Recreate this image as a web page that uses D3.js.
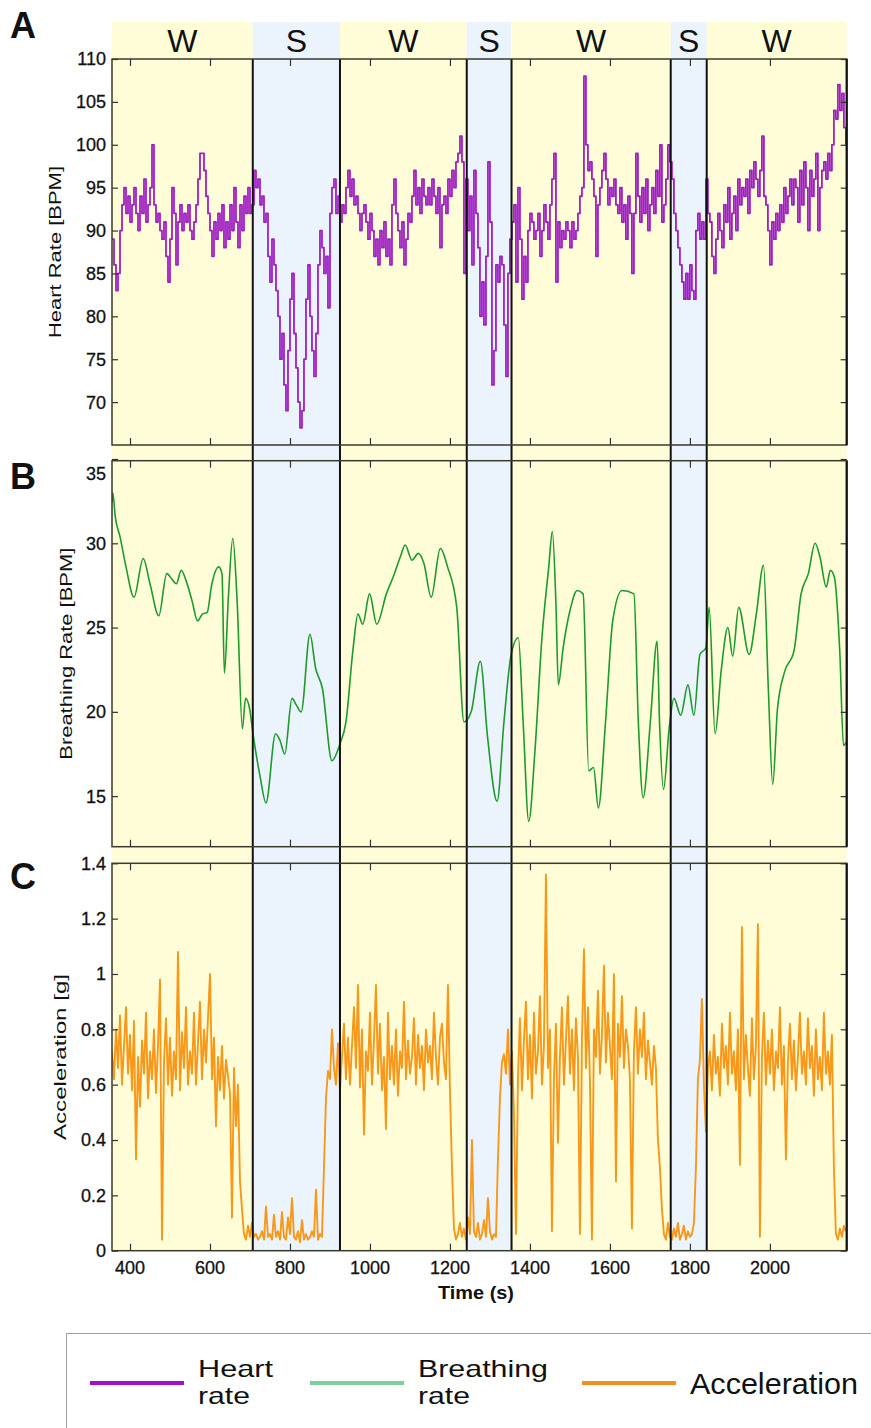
<!DOCTYPE html>
<html>
<head>
    <meta charset="utf-8">
    <title>Heart rate, breathing rate and acceleration</title>
    <style type="text/css">
        body { margin: 0; background: #fff; }
        svg text { font-family: "Liberation Sans", Arial, sans-serif; fill: #111; }
    </style>
</head>
<body>
<div id="chart"></div>
<script src="https://cdn.jsdelivr.net/npm/d3@7"></script>
<script type="text/javascript">
    // sampling of the heart rate and acceleration traces (s)
    var sampleStart = 355, sampleStep = 5;

    // heart rate [BPM], one value every 5 s from 355 s
    var heartRate = [
        89, 86, 83, 85, 90, 93, 95, 92, 94, 91,
        93, 95, 92, 90, 94, 92, 96, 91, 93, 95,
        100, 93, 91, 92, 90, 89, 91, 87, 84, 89,
        95, 92, 86, 91, 93, 90, 92, 91, 93, 90,
        89, 91, 93, 96, 99, 99, 97, 94, 92, 90,
        87, 91, 89, 92, 90, 93, 88, 91, 89, 93,
        90, 95, 91, 88, 93, 90, 94, 92, 95, 92,
        93, 97, 95, 96, 93, 94, 91, 92, 87, 84,
        89, 86, 83, 80, 75, 78, 72, 69, 76, 82,
        85, 78, 74, 70, 67, 69, 75, 82, 86, 80,
        76, 73, 78, 86, 90, 88, 85, 87, 81, 92,
        95, 96, 92, 94, 91, 93, 92, 95, 97, 94,
        96, 93, 94, 92, 90, 92, 93, 91, 89, 92,
        90, 87, 89, 86, 90, 88, 91, 87, 89, 86,
        93, 96, 92, 90, 88, 91, 86, 89, 92, 91,
        94, 97, 93, 95, 92, 96, 94, 93, 95, 93,
        96, 94, 92, 95, 88, 93, 94, 92, 96, 94,
        97, 95, 98, 99, 101, 98, 85, 96, 90, 94,
        86, 97, 92, 88, 80, 84, 79, 87, 98, 91,
        72, 76, 86, 84, 87, 86, 79, 73, 85, 89,
        91, 93, 84, 95, 89, 82, 87, 84, 90, 92,
        91, 89, 90, 92, 87, 90, 93, 91, 89, 93,
        96, 99, 84, 91, 88, 90, 89, 91, 90, 88,
        91, 89, 90, 92, 94, 95, 108, 100, 97, 98,
        96, 94, 87, 93, 95, 97, 99, 96, 93, 95,
        94, 96, 93, 92, 95, 91, 93, 89, 94, 92,
        85, 92, 99, 94, 91, 95, 92, 96, 90, 93,
        95, 92, 97, 94, 100, 91, 93, 96, 100, 98,
        96, 92, 90, 88, 86, 84, 82, 85, 82, 86,
        83, 82, 90, 92, 89, 91, 89, 96, 92, 91,
        87, 85, 89, 92, 90, 88, 93, 91, 95, 89,
        92, 94, 90, 96, 93, 95, 94, 96, 92, 97,
        95, 98, 96, 94, 97, 101, 94, 93, 90, 86,
        91, 89, 92, 90, 93, 91, 95, 92, 94, 96,
        93, 96, 95, 91, 97, 93, 98, 95, 90, 97,
        94, 96, 99, 90, 95, 97, 98, 96, 99, 97,
        100, 104, 103, 107, 104, 106, 102, 100
    ];

    // acceleration [g], one value every 5 s from 355 s
    var acceleration = [
        .72, .62, .80, .66, .85, .60, .74, .88, .64, .78,
        .58, .83, .33, .70, .52, .76, .64, .86, .55, .72,
        .62, .80, .57, .74, .98, .04, .68, .84, .60, .77,
        .56, .72, .62, 1.08, .58, .79, .66, .88, .60, .72,
        .64, .86, .60, .75, .90, .62, .80, .68, .84, 1.00,
        .62, .77, .45, .70, .58, .74, .55, .69, .63, .57,
        .12, .66, .45, .60, .25, .15, .06, .04, .09, .05,
        .10, .05, .06, .04, .05, .07, .04, .16, .05, .06,
        .04, .13, .05, .07, .04, .14, .05, .04, .12, .06,
        .19, .05, .04, .07, .03, .11, .04, .06, .04, .05,
        .07, .05, .22, .04, .06, .05, .30, .55, .65, .62,
        .80, .66, .60, .75, .58, .70, .82, .62, .77, .60,
        .74, .88, .66, .96, .59, .80, .42, .72, .65, .86,
        .60, .76, .96, .64, .82, .58, .70, .44, .86, .62,
        .74, .60, .80, .56, .72, .66, .90, .62, .76, .64,
        .70, .84, .60, .78, .66, .74, .58, .80, .68, .74,
        .62, .86, .70, .60, .77, .82, .68, .62, .96, .58,
        .30, .08, .04, .06, .10, .05, .08, .04, .12, .06,
        .40, .07, .05, .10, .04, .06, .11, .05, .19, .07,
        .04, .06, .05, .33, .55, .68, .71, .64, .80, .60,
        .72, .50, .06, .62, .84, .58, .76, .90, .62, .78,
        .55, .86, .64, .72, .92, .60, .74, 1.36, .66, .80,
        .07, .62, .82, .39, .70, .88, .60, .76, .92, .64,
        .80, .58, .84, .70, .06, .76, 1.09, .66, .88, .62,
        .04, .80, .70, .94, .64, .78, 1.03, .68, .86, .74,
        .62, 1.00, .25, .82, .70, .92, .66, .80, .74, .62,
        .08, .72, .88, .64, .80, .70, .86, .62, .76, .68,
        .60, .74, .66, .40, .30, .15, .06, .04, .10, .05,
        .04, .08, .05, .10, .04, .06, .09, .04, .07, .05,
        .06, .10, .30, .62, .69, .91, .60, .43, .66, .72,
        .58, .78, .64, .70, .56, .82, .66, .74, .60, .86,
        .64, .72, .58, .80, .31, 1.17, .62, .78, .66, .56,
        .84, .62, .74, 1.18, .05, .70, .86, .60, .76, .64,
        .80, .58, .72, .66, .88, .60, .74, .33, .68, .82,
        .62, .76, .58, .70, .86, .64, .72, .60, .84, .66,
        .74, .56, .80, .62, .70, .58, .86, .64, .72, .60,
        .78, .30, .06, .04, .08, .05, .09, .07
    ];

    // breathing rate [BPM] at the turning points of the trace
    var breathTime = [
        355, 357, 363, 375, 390, 410, 433, 450, 472, 492, 504, 516, 528, 540, 555, 569,
        581, 593, 604, 622, 630, 636, 646, 657, 668, 681, 689, 699, 707, 725, 740,
        764, 775, 787, 805, 816, 828, 850, 864, 881, 905, 925, 940, 958, 970, 982,
        999, 1017, 1041, 1058, 1076, 1088, 1105, 1121, 1135, 1153, 1176, 1194, 1217,
        1235, 1253, 1276, 1294, 1318, 1335, 1353, 1371, 1383, 1397, 1412, 1430, 1447,
        1456, 1465, 1471, 1483, 1500, 1518, 1533, 1547, 1559, 1571, 1589, 1607, 1630,
        1660, 1671, 1683, 1701, 1718, 1724, 1734, 1748, 1760, 1777, 1795, 1810, 1825,
        1840, 1848, 1863, 1878, 1895, 1907, 1922, 1948, 1966, 1984, 1996, 2007, 2019,
        2037, 2060, 2078, 2096, 2113, 2125, 2141, 2151, 2161, 2175, 2184, 2191
    ];
    var breathRate = [
        32.4, 33.0, 31.6, 30.4, 28.6, 26.8, 29.1, 27.6, 25.7, 28.2, 27.9, 27.6, 28.4, 27.8, 26.6, 25.4,
        25.8, 25.9, 27.5, 28.6, 28.2, 22.3, 26.8, 30.3, 26.5, 19.0, 20.8, 20.2, 18.8, 16.2, 14.6,
        18.7, 18.3, 17.5, 20.8, 20.4, 20.0, 24.6, 22.6, 21.4, 17.1, 18.1, 19.4, 23.8, 25.8, 25.2,
        27.0, 25.2, 27.0, 28.0, 29.2, 29.9, 29.0, 29.4, 28.8, 26.8, 29.7, 28.6, 26.2,
        19.4, 20.0, 23.0, 18.5, 14.7, 19.4, 23.4, 24.4, 19.4, 13.5, 17.5, 24.4, 28.6,
        30.7, 26.4, 21.6, 23.8, 26.0, 27.2, 27.0, 16.5, 16.7, 14.3, 19.4, 25.4, 27.2,
        27.0, 19.4, 14.9, 19.4, 24.2, 19.4, 15.4, 19.0, 20.8, 19.8, 21.6, 19.8, 23.4,
        23.8, 26.2, 18.7, 22.4, 25.0, 23.3, 26.2, 23.4, 25.8, 28.7, 21.4, 15.7, 20.2,
        22.4, 23.6, 27.0, 28.2, 30.0, 29.2, 27.4, 28.4, 28.0, 23.4, 18.0, 18.2
    ];

    // wake / sleep stages
    var stageLabels = ["W", "S", "W", "S", "W", "S", "W"];
    var stageEdges = [355, 707, 925, 1242, 1354, 1752, 1842, 2192];

    var timeTicks = [400, 600, 800, 1000, 1200, 1400, 1600, 1800, 2000];
    var hrTicks = [70, 75, 80, 85, 90, 95, 100, 105, 110];
    var brTicks = [15, 20, 25, 30, 35];
    var accTicks = [0, 0.2, 0.4, 0.6, 0.8, 1, 1.2, 1.4];

    var legendLabels = [["Heart", "rate"], ["Breathing", "rate"], ["Acceleration"]];
    var legendColors = ["#a010d0", "#7ccf9a", "#f09020"];

    var svg = d3.select("#chart").append("svg")
        .attr("width", 871)
        .attr("height", 1428);

    var x = d3.scaleLinear().domain([355, 2192]).range([112, 846.7]);

    //面板布局
    var panels = [
        {letter: "A", letterY: 38, top: 59, bottom: 445, domain: [65, 110], ticks: hrTicks,
            label: "Heart Rate [BPM]", labelX: 55, labelLen: 172, color: "#a01fc4", width: 1.8,
            curve: d3.curveStepAfter},
        {letter: "B", letterY: 489, top: 460.7, bottom: 846.7, domain: [12, 34.9], ticks: brTicks,
            label: "Breathing Rate [BPM]", labelX: 66, labelLen: 212, color: "#1e9a2c", width: 1.6,
            curve: d3.curveMonotoneX},
        {letter: "C", letterY: 889, top: 863.3, bottom: 1250.7, domain: [0, 1.4], ticks: accTicks,
            label: "Acceleration [g]", labelX: 60, labelLen: 166, color: "#f7981a", width: 1.9,
            curve: d3.curveLinear}
    ];
    panels.forEach(function (p) {
        p.y = d3.scaleLinear().domain(p.domain).range([p.bottom, p.top]);
    });

    //背景色带
    svg.append("g").selectAll("rect")
        .data(stageLabels)
        .enter()
        .append("rect")
        .attr("x", function (d, i) { return x(stageEdges[i]); })
        .attr("y", 22)
        .attr("width", function (d, i) { return x(stageEdges[i + 1]) - x(stageEdges[i]); })
        .attr("height", 1250.7 - 22)
        .attr("fill", function (d) { return d == "W" ? "#fefdd8" : "#ebf4fd"; });

    svg.append("g").selectAll("text")
        .data(stageLabels)
        .enter()
        .append("text")
        .attr("x", function (d, i) { return (x(stageEdges[i]) + x(stageEdges[i + 1])) / 2; })
        .attr("y", 52)
        .attr("text-anchor", "middle")
        .style("font-size", "32px")
        .text(function (d) { return d; });

    var hrData = heartRate.map(function (v, i) { return [sampleStart + i * sampleStep, v]; });
    var accData = acceleration.map(function (v, i) { return [sampleStart + i * sampleStep, v]; });
    var brData = breathRate.map(function (v, i) { return [breathTime[i], v]; });
    var series = [hrData, brData, accData];

    panels.forEach(function (p, k) {
        var g = svg.append("g");

        g.append("clipPath").attr("id", "clip" + k)
            .append("rect")
            .attr("x", x.range()[0]).attr("y", p.top)
            .attr("width", x.range()[1] - x.range()[0])
            .attr("height", p.bottom - p.top);

        var line = d3.line()
            .curve(p.curve)
            .x(function (d) { return x(d[0]); })
            .y(function (d) { return p.y(d[1]); });

        g.append("path")
            .datum(series[k])
            .attr("clip-path", "url(#clip" + k + ")")
            .attr("d", line)
            .attr("fill", "none")
            .attr("stroke", p.color)
            .attr("stroke-width", p.width)
            .attr("stroke-linejoin", "round");

        // ticks pointing inwards on all four sides
        g.append("g").attr("transform", "translate(0," + p.bottom + ")")
            .call(d3.axisTop(x).tickValues(timeTicks).tickSize(7).tickFormat(""));
        g.append("g").attr("transform", "translate(0," + p.top + ")")
            .call(d3.axisBottom(x).tickValues(timeTicks).tickSize(7).tickFormat(""));
        g.append("g").attr("transform", "translate(" + x.range()[1] + ",0)")
            .call(d3.axisLeft(p.y).tickValues(p.ticks).tickSize(6).tickFormat(""));
        g.append("g").attr("transform", "translate(" + x.range()[0] + ",0)")
            .call(d3.axisRight(p.y).tickValues(p.ticks).tickSize(6).tickFormat(""));
        g.selectAll(".domain").remove();
        g.selectAll(".tick line").attr("stroke", "#333").attr("stroke-width", 1.2);

        g.selectAll(".tlabel")
            .data(p.ticks)
            .enter()
            .append("text")
            .attr("x", 106)
            .attr("y", function (d) { return d > p.domain[1] ? p.top + 13 : p.y(d); })
            .attr("dy", "0.36em")
            .attr("text-anchor", "end")
            .style("font-size", "18px")
            .style("stroke", "#111").style("stroke-width", 0.3)
            .text(function (d) { return d; });

        g.append("text")
            .attr("transform", "translate(" + p.labelX + "," + (p.top + p.bottom) / 2 + ") rotate(-90)")
            .attr("text-anchor", "middle")
            .attr("dy", "0.35em")
            .attr("textLength", p.labelLen)
            .attr("lengthAdjust", "spacingAndGlyphs")
            .style("font-size", "17px")
            .text(p.label);

        g.append("text")
            .attr("x", 10)
            .attr("y", p.letterY)
            .style("font-size", "36px")
            .style("font-weight", "bold")
            .text(p.letter);
    });

    //阶段分界线
    svg.append("g").selectAll("line")
        .data(stageEdges.slice(1, -1))
        .enter()
        .append("line")
        .attr("x1", function (d) { return x(d); })
        .attr("x2", function (d) { return x(d); })
        .attr("y1", 59)
        .attr("y2", 1250.7)
        .attr("stroke", "#111")
        .attr("stroke-width", 2);

    //边框
    panels.forEach(function (p) {
        svg.append("rect")
            .attr("x", x.range()[0]).attr("y", p.top)
            .attr("width", x.range()[1] - x.range()[0])
            .attr("height", p.bottom - p.top)
            .attr("fill", "none")
            .attr("stroke", "#3a3a2c")
            .attr("stroke-width", 1.5);
        svg.append("line")
            .attr("x1", x.range()[1]).attr("x2", x.range()[1])
            .attr("y1", p.top).attr("y2", p.bottom)
            .attr("stroke", "#111").attr("stroke-width", 2.2);
    });

    svg.append("g").selectAll("text")
        .data(timeTicks)
        .enter()
        .append("text")
        .attr("x", function (d) { return x(d); })
        .attr("y", 1274)
        .attr("text-anchor", "middle")
        .style("font-size", "18px")
        .style("stroke", "#111").style("stroke-width", 0.3)
        .text(function (d) { return d; });

    svg.append("text")
        .attr("x", 476)
        .attr("y", 1299)
        .attr("text-anchor", "middle")
        .attr("textLength", 76)
        .attr("lengthAdjust", "spacingAndGlyphs")
        .style("font-size", "18px")
        .style("font-weight", "bold")
        .text("Time (s)");

    //图例
    var legend = svg.append("g");
    legend.append("rect")
        .attr("x", 66.5).attr("y", 1333.5)
        .attr("width", 820).attr("height", 120)
        .attr("fill", "#fff")
        .attr("stroke", "#a0a0a0");

    var legendX = [90, 310, 582];
    var lineLens = {"Heart": 75, "Breathing": 130, "rate": 52};
    legendLabels.forEach(function (lines, i) {
        legend.append("line")
            .attr("x1", legendX[i]).attr("x2", legendX[i] + 94)
            .attr("y1", 1383).attr("y2", 1383)
            .attr("stroke", legendColors[i])
            .attr("stroke-width", 4);
        if (lines.length == 1) {
            legend.append("text")
                .attr("x", legendX[i] + 108)
                .attr("y", 1394)
                .attr("textLength", 168)
                .attr("lengthAdjust", "spacingAndGlyphs")
                .style("font-size", "29px")
                .text(lines[0]);
        } else {
            lines.forEach(function (s, j) {
                legend.append("text")
                    .attr("x", legendX[i] + 108)
                    .attr("y", 1377 + j * 27)
                    .attr("textLength", lineLens[s])
                    .attr("lengthAdjust", "spacingAndGlyphs")
                    .style("font-size", "24px")
                    .text(s);
            });
        }
    });
</script>
</body>
</html>
